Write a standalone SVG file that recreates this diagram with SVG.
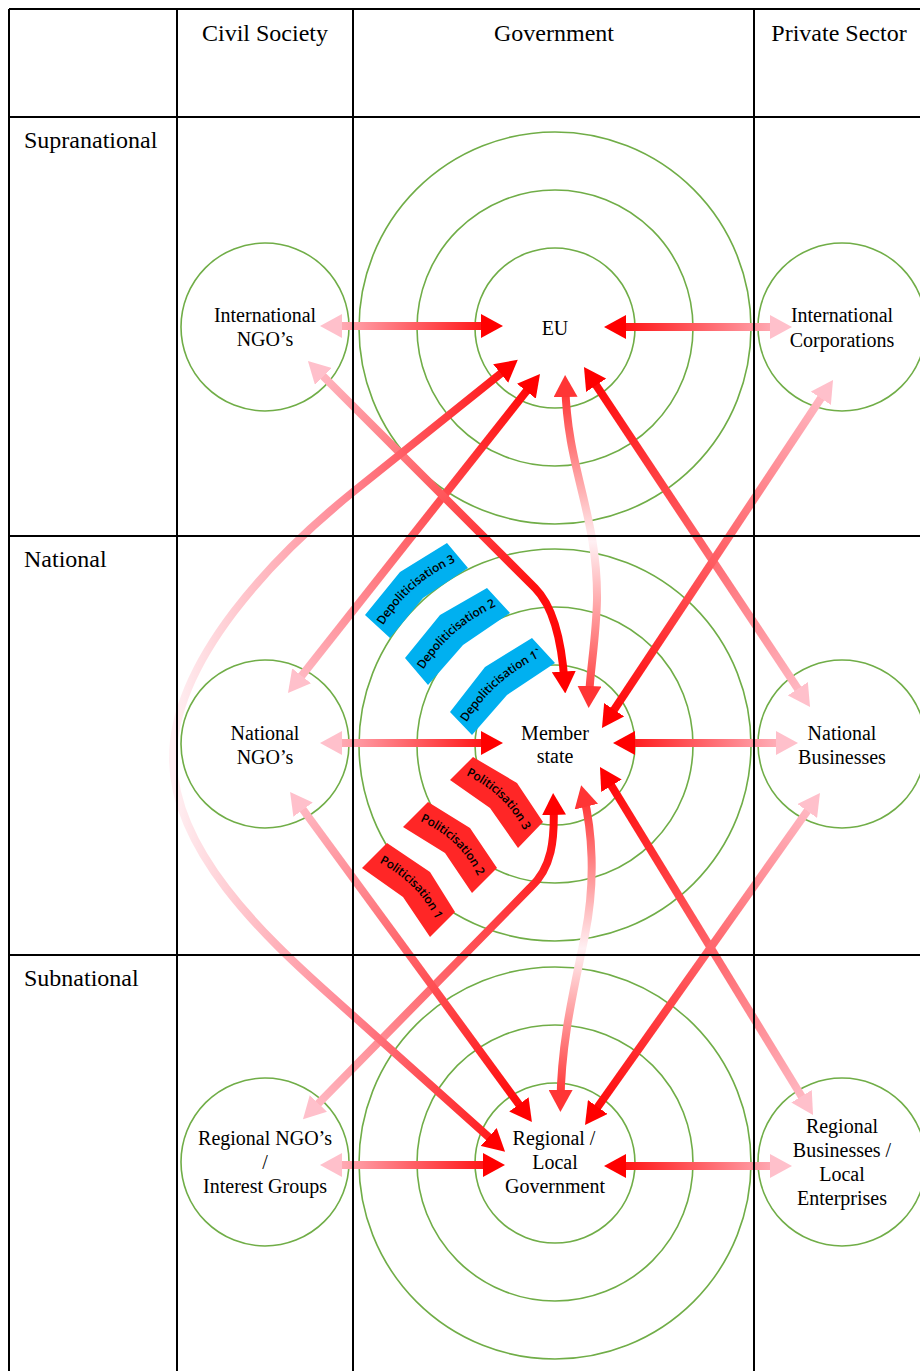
<svg xmlns="http://www.w3.org/2000/svg" width="920" height="1371" viewBox="0 0 920 1371">
<style>
.ring{fill:none;stroke:#70AD47;stroke-width:1.6}
.grid{stroke:#000;stroke-width:2;fill:none}
.hd{font-family:"Liberation Serif","Times New Roman",serif;font-size:24px;fill:#000}
.nt{font-family:"Liberation Serif","Times New Roman",serif;font-size:20px;fill:#000;text-anchor:middle}
.ar{fill:none;stroke-width:8}
.blue{fill:#00B0F0}
.redb{fill:#FF2626}
.bt{font-family:"Open Sans","Noto Sans",sans-serif;font-size:12px;font-weight:600;fill:#000;text-anchor:middle}
</style>
<defs>
<marker id="hr" viewBox="0 0 22 24" markerWidth="22" markerHeight="24" refX="12" refY="12" orient="auto-start-reverse" markerUnits="userSpaceOnUse"><path d="M0,0 L22,12 L0,24 z" fill="#FF0000"/></marker>
<marker id="hp" viewBox="0 0 22 24" markerWidth="22" markerHeight="24" refX="12" refY="12" orient="auto-start-reverse" markerUnits="userSpaceOnUse"><path d="M0,0 L22,12 L0,24 z" fill="#FFC0CB"/></marker>
<marker id="hm" viewBox="0 0 22 24" markerWidth="22" markerHeight="24" refX="12" refY="12" orient="auto-start-reverse" markerUnits="userSpaceOnUse"><path d="M0,0 L22,12 L0,24 z" fill="#FF3535"/></marker>
<linearGradient id="gL" gradientUnits="userSpaceOnUse" x1="320" y1="0" x2="505" y2="0"><stop offset="0" stop-color="#FFC0CB"/><stop offset="1" stop-color="#FF0000"/></linearGradient>
<linearGradient id="gR" gradientUnits="userSpaceOnUse" x1="604" y1="0" x2="796" y2="0"><stop offset="0" stop-color="#FF0000"/><stop offset="1" stop-color="#FFC0CB"/></linearGradient>
<linearGradient id="g7" gradientUnits="userSpaceOnUse" x1="540" y1="374" x2="288" y2="693"><stop offset="0" stop-color="#FF0000"/><stop offset="1" stop-color="#FFC0CB"/></linearGradient>
<linearGradient id="g8" gradientUnits="userSpaceOnUse" x1="308" y1="361" x2="565" y2="694"><stop offset="0" stop-color="#FFC0CB"/><stop offset="0.75" stop-color="#FF1010"/><stop offset="1" stop-color="#FF0000"/></linearGradient>
<linearGradient id="g9" gradientUnits="userSpaceOnUse" x1="0" y1="375" x2="0" y2="708"><stop offset="0" stop-color="#FF2020"/><stop offset="0.5" stop-color="#FFF0F3"/><stop offset="1" stop-color="#FF3030"/></linearGradient>
<linearGradient id="g10" gradientUnits="userSpaceOnUse" x1="0" y1="785" x2="0" y2="1112"><stop offset="0" stop-color="#FF2020"/><stop offset="0.5" stop-color="#FFF0F3"/><stop offset="1" stop-color="#FF2020"/></linearGradient>
<linearGradient id="g11" gradientUnits="userSpaceOnUse" x1="553" y1="793" x2="303" y2="1119"><stop offset="0" stop-color="#FF0000"/><stop offset="1" stop-color="#FFC0CB"/></linearGradient>
<linearGradient id="g12" gradientUnits="userSpaceOnUse" x1="584" y1="367" x2="810" y2="707"><stop offset="0" stop-color="#FF0000"/><stop offset="1" stop-color="#FFC0CB"/></linearGradient>
<linearGradient id="g13" gradientUnits="userSpaceOnUse" x1="833" y1="380" x2="602" y2="728"><stop offset="0" stop-color="#FFC0CB"/><stop offset="1" stop-color="#FF0000"/></linearGradient>
<linearGradient id="g14" gradientUnits="userSpaceOnUse" x1="600" y1="767" x2="813" y2="1115"><stop offset="0" stop-color="#FF0000"/><stop offset="1" stop-color="#FFC0CB"/></linearGradient>
<linearGradient id="g15" gradientUnits="userSpaceOnUse" x1="820" y1="793" x2="585" y2="1125"><stop offset="0" stop-color="#FFC0CB"/><stop offset="1" stop-color="#FF0000"/></linearGradient>
<linearGradient id="g16" gradientUnits="userSpaceOnUse" x1="290" y1="792" x2="532" y2="1122"><stop offset="0" stop-color="#FFC0CB"/><stop offset="1" stop-color="#FF0000"/></linearGradient>
<linearGradient id="g17" gradientUnits="userSpaceOnUse" x1="173" y1="0" x2="512" y2="0"><stop offset="0" stop-color="#FFF0F3"/><stop offset="0.5" stop-color="#FF8A96"/><stop offset="1" stop-color="#FF0D0D"/></linearGradient>
<path id="tp1" d="M370.9,637.3 L377,627 Q405.5,578.5 458,556 L469,551.3"/>
<path id="tp2" d="M411,682.4 L417,672 Q445,624 499,600 L510,595.1"/>
<path id="tp3" d="M454.9,733.8 L461,723.5 Q489.75,675 543.5,650.5 L554.4,645.5"/>
<path id="tq3" d="M450.4,763.9 L461.5,768.5 Q511,789.25 530.5,835 L535.2,846"/>
<path id="tq2" d="M404.3,810.2 L415.5,814.5 Q465,833.5 484.5,880.5 L489.1,891.6"/>
<path id="tq1" d="M363.6,850.4 L374.5,855.5 Q424.5,879 442.5,924.5 L446.9,935.7"/>
</defs>
<rect x="0" y="0" width="920" height="1371" fill="#fff"/>

<g id="header-labels">
<text class="hd" x="265" y="41" text-anchor="middle">Civil Society</text>
<text class="hd" x="554" y="41" text-anchor="middle">Government</text>
<text class="hd" x="839" y="41" text-anchor="middle">Private Sector</text>
<text class="hd" x="24" y="148">Supranational</text>
<text class="hd" x="24" y="567">National</text>
<text class="hd" x="24" y="986">Subnational</text>
</g>

<g id="node-eu">
<circle class="ring" cx="555" cy="328" r="196"/><circle class="ring" cx="555" cy="328" r="138"/><circle class="ring" cx="555" cy="328" r="80"/>
<text class="nt" x="555" y="335">EU</text>
</g>
<g id="node-member-state">
<circle class="ring" cx="555" cy="745" r="196"/><circle class="ring" cx="555" cy="745" r="138"/><circle class="ring" cx="555" cy="745" r="80"/>
<text class="nt" x="555" y="740">Member</text><text class="nt" x="555" y="763">state</text>
</g>
<g id="node-regional-government">
<circle class="ring" cx="555" cy="1163" r="196"/><circle class="ring" cx="555" cy="1163" r="138"/><circle class="ring" cx="555" cy="1163" r="80"/>
<text class="nt" x="554" y="1145">Regional /</text><text class="nt" x="555" y="1169">Local</text><text class="nt" x="555" y="1193">Government</text>
</g>
<g id="node-international-ngos">
<circle class="ring" cx="265" cy="327" r="84"/>
<text class="nt" x="265" y="322">International</text><text class="nt" x="265" y="346">NGO’s</text>
</g>
<g id="node-international-corporations">
<circle class="ring" cx="842" cy="327" r="84"/>
<text class="nt" x="842" y="322">International</text><text class="nt" x="842" y="347">Corporations</text>
</g>
<g id="node-national-ngos">
<circle class="ring" cx="265" cy="744" r="84"/>
<text class="nt" x="265" y="740">National</text><text class="nt" x="265" y="764">NGO’s</text>
</g>
<g id="node-national-businesses">
<circle class="ring" cx="842" cy="744" r="84"/>
<text class="nt" x="842" y="740">National</text><text class="nt" x="842" y="764">Businesses</text>
</g>
<g id="node-regional-ngos">
<circle class="ring" cx="265" cy="1162" r="84"/>
<text class="nt" x="265" y="1145">Regional NGO’s</text><text class="nt" x="265" y="1169">/</text><text class="nt" x="265" y="1193">Interest Groups</text>
</g>
<g id="node-regional-businesses">
<circle class="ring" cx="842" cy="1162" r="84"/>
<text class="nt" x="842" y="1133">Regional</text><text class="nt" x="842" y="1157">Businesses /</text><text class="nt" x="842" y="1181">Local</text><text class="nt" x="842" y="1205">Enterprises</text>
</g>

<g id="banners">
<polygon class="blue" points="365,615 400,572 447,543 468,568 423,598 390,638"/>
<polygon class="blue" points="405,658 440,615 487,588 510,613 463,645 428,685"/>
<polygon class="blue" points="450,712 485,667 532,638 555,663 507,695 472,735"/>
<polygon class="redb" points="450,780 473,757 517,783 543,822 518,848 490,808"/>
<polygon class="redb" points="403,827 428,802 470,828 497,868 472,893 445,853"/>
<polygon class="redb" points="362,868 387,843 430,872 455,912 430,937 403,897"/>
<text class="bt" dy="4.3"><textPath href="#tp1" startOffset="50%">Depoliticisation 3</textPath></text>
<text class="bt" dy="4.3"><textPath href="#tp2" startOffset="50%">Depoliticisation 2</textPath></text>
<text class="bt" dy="4.3"><textPath href="#tp3" startOffset="50%">Depoliticisation 1`</textPath></text>
<text class="bt" dy="4.3"><textPath href="#tq3" startOffset="50%">Politicisation 3</textPath></text>
<text class="bt" dy="4.3"><textPath href="#tq2" startOffset="50%">Politicisation 2</textPath></text>
<text class="bt" dy="4.3"><textPath href="#tq1" startOffset="50%">Politicisation 1</textPath></text>
</g>

<g id="connectors">
<path class="ar" d="M330,326 L493,326" stroke="url(#gL)" marker-start="url(#hp)" marker-end="url(#hr)"/>
<path class="ar" d="M614,327 L782,327" stroke="url(#gR)" marker-start="url(#hr)" marker-end="url(#hp)"/>
<path class="ar" d="M330,743 L493,743" stroke="url(#gL)" marker-start="url(#hp)" marker-end="url(#hr)"/>
<path class="ar" d="M623,743 L788,743" stroke="url(#gR)" marker-start="url(#hr)" marker-end="url(#hp)"/>
<path class="ar" d="M330,1165 L495,1165" stroke="url(#gL)" marker-start="url(#hp)" marker-end="url(#hr)"/>
<path class="ar" d="M614,1166 L782,1166" stroke="url(#gR)" marker-start="url(#hr)" marker-end="url(#hp)"/>
<path class="ar" d="M533.8,381.8 L294.2,685.2" stroke="url(#g7)" marker-start="url(#hr)" marker-end="url(#hp)"/>
<path class="ar" d="M315,368 L535,588 Q560,613 564.6,683.5" stroke="url(#g8)" marker-start="url(#hp)" marker-end="url(#hr)"/>
<path class="ar" d="M565.3,385 C567,470 598,515 597,600 C596,640 590,670 589,698" stroke="url(#g9)" marker-start="url(#hm)" marker-end="url(#hm)"/>
<path class="ar" d="M583.5,795 C592,830 596,880 585,935 C575,985 561,1040 560.5,1102" stroke="url(#g10)" marker-start="url(#hm)" marker-end="url(#hm)"/>
<path class="ar" d="M553.5,803 C555,840 552,868 530,888 L310,1112" stroke="url(#g11)" marker-start="url(#hr)" marker-end="url(#hp)"/>
<path class="ar" d="M589.5,375.3 L804.5,698.7" stroke="url(#g12)" marker-start="url(#hr)" marker-end="url(#hp)"/>
<path class="ar" d="M827.5,388.3 L607.5,719.7" stroke="url(#g13)" marker-start="url(#hp)" marker-end="url(#hr)"/>
<path class="ar" d="M605.2,775.5 L807.8,1106.5" stroke="url(#g14)" marker-start="url(#hr)" marker-end="url(#hp)"/>
<path class="ar" d="M814.2,801.2 L590.8,1116.8" stroke="url(#g15)" marker-start="url(#hp)" marker-end="url(#hr)"/>
<path class="ar" d="M296,800 L526,1114" stroke="url(#g16)" marker-start="url(#hp)" marker-end="url(#hr)"/>
<path class="ar" d="M510,366 L353,492 C275,555 173,660 173,758 C173,850 263,935 330,995 L497.6,1145" stroke="url(#g17)" marker-start="url(#hr)" marker-end="url(#hr)"/>
</g>

<g id="grid">
<path class="grid" d="M9,9 H920 M9,117 H920 M9,536 H920 M9,955 H920 M9,9 V1371 M177,9 V1371 M353,9 V1371 M754,9 V1371"/>
</g>
</svg>
